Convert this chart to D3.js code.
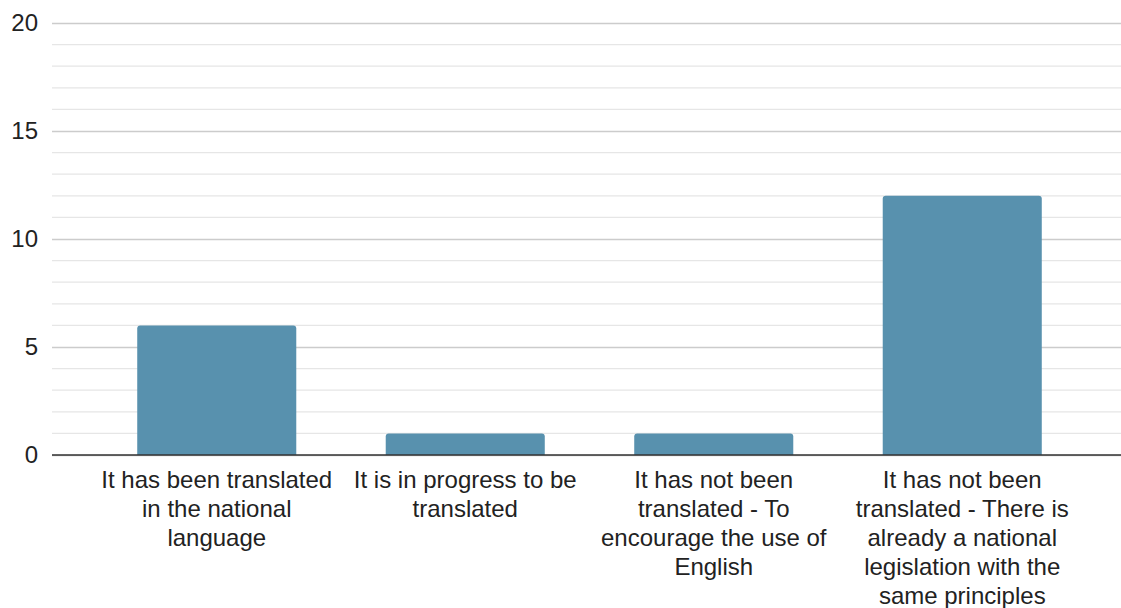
<!DOCTYPE html>
<html>
<head>
<meta charset="utf-8">
<script src="https://cdn.jsdelivr.net/npm/d3@7"></script>
<style>
  body { margin: 0; background: #fff; }
  text { font-family: "Liberation Sans", Arial, sans-serif; fill: #222; }
</style>
</head>
<body>
<div id="chart"></div>
<script>
// data
const categories = ['c1', 'c2', 'c3', 'c4']
const labelLines = [
  ['It has been translated', 'in the national', 'language'],
  ['It is in progress to be', 'translated'],
  ['It has not been', 'translated - To', 'encourage the use of', 'English'],
  ['It has not been', 'translated - There is', 'already a national', 'legislation with the', 'same principles']
]
const values = [6, 1, 1, 12]
const yTicks = [0, 5, 10, 15, 20]

const width = 1121,
height = 608

const svg = d3.select('#chart')
.append('svg')
.attr('width', width)
.attr('height', height)

const x = d3.scaleBand()
.domain(categories)
.range([92.5, 1086.5])
.paddingInner(0.36)
.paddingOuter(0.18)

const y = d3.scaleLinear()
.domain([0, 20])
.range([455, 23])

// minor grid
svg.append('g')
.selectAll('line')
.data(d3.range(0, 21).filter(d => d % 5 !== 0))
.enter()
.append('line')
.attr('x1', 52).attr('x2', width)
.attr('y1', d => y(d)).attr('y2', d => y(d))
.attr('stroke', '#e6e6e6')
.attr('stroke-width', 1.3)

// major grid + labels
const yAxis = d3.axisLeft(y)
.tickValues(yTicks)
.tickSize(-(width - 52))
.tickPadding(14)

svg.append('g')
.attr('transform', 'translate(52,0)')
.call(yAxis)
.call(g => g.select('.domain').remove())
.call(g => g.selectAll('.tick line').attr('stroke', '#cccccc').attr('stroke-width', 1.3))
.call(g => g.selectAll('.tick text')
  .attr('font-size', 24)
  .attr('fill', '#222')
  .attr('font-family', '"Liberation Sans", Arial, sans-serif'))

// bars with rounded top corners
const r = 3
svg.selectAll('path.bar')
.data(values)
.enter()
.append('path')
.attr('class', 'bar')
.attr('fill', '#5891ae')
.attr('d', (d, i) => {
  const x0 = x(categories[i]), w = x.bandwidth()
  const y0 = y(d), y1 = y(0)
  return `M${x0},${y1}V${y0 + r}Q${x0},${y0} ${x0 + r},${y0}H${x0 + w - r}Q${x0 + w},${y0} ${x0 + w},${y0 + r}V${y1}Z`
})

// baseline
svg.append('line')
.attr('x1', 52).attr('x2', width)
.attr('y1', y(0)).attr('y2', y(0))
.attr('stroke', '#333')
.attr('stroke-width', 1.5)

// category labels
const lab = svg.append('g')
.selectAll('text')
.data(labelLines)
.enter()
.append('text')
.attr('text-anchor', 'middle')
.attr('font-size', 24)
.attr('transform', (d, i) => `translate(${x(categories[i]) + x.bandwidth() / 2},488)`)

lab.selectAll('tspan')
.data(d => d)
.enter()
.append('tspan')
.attr('x', 0)
.attr('y', (d, i) => i * 29)
.text(d => d)
</script>
</body>
</html>
